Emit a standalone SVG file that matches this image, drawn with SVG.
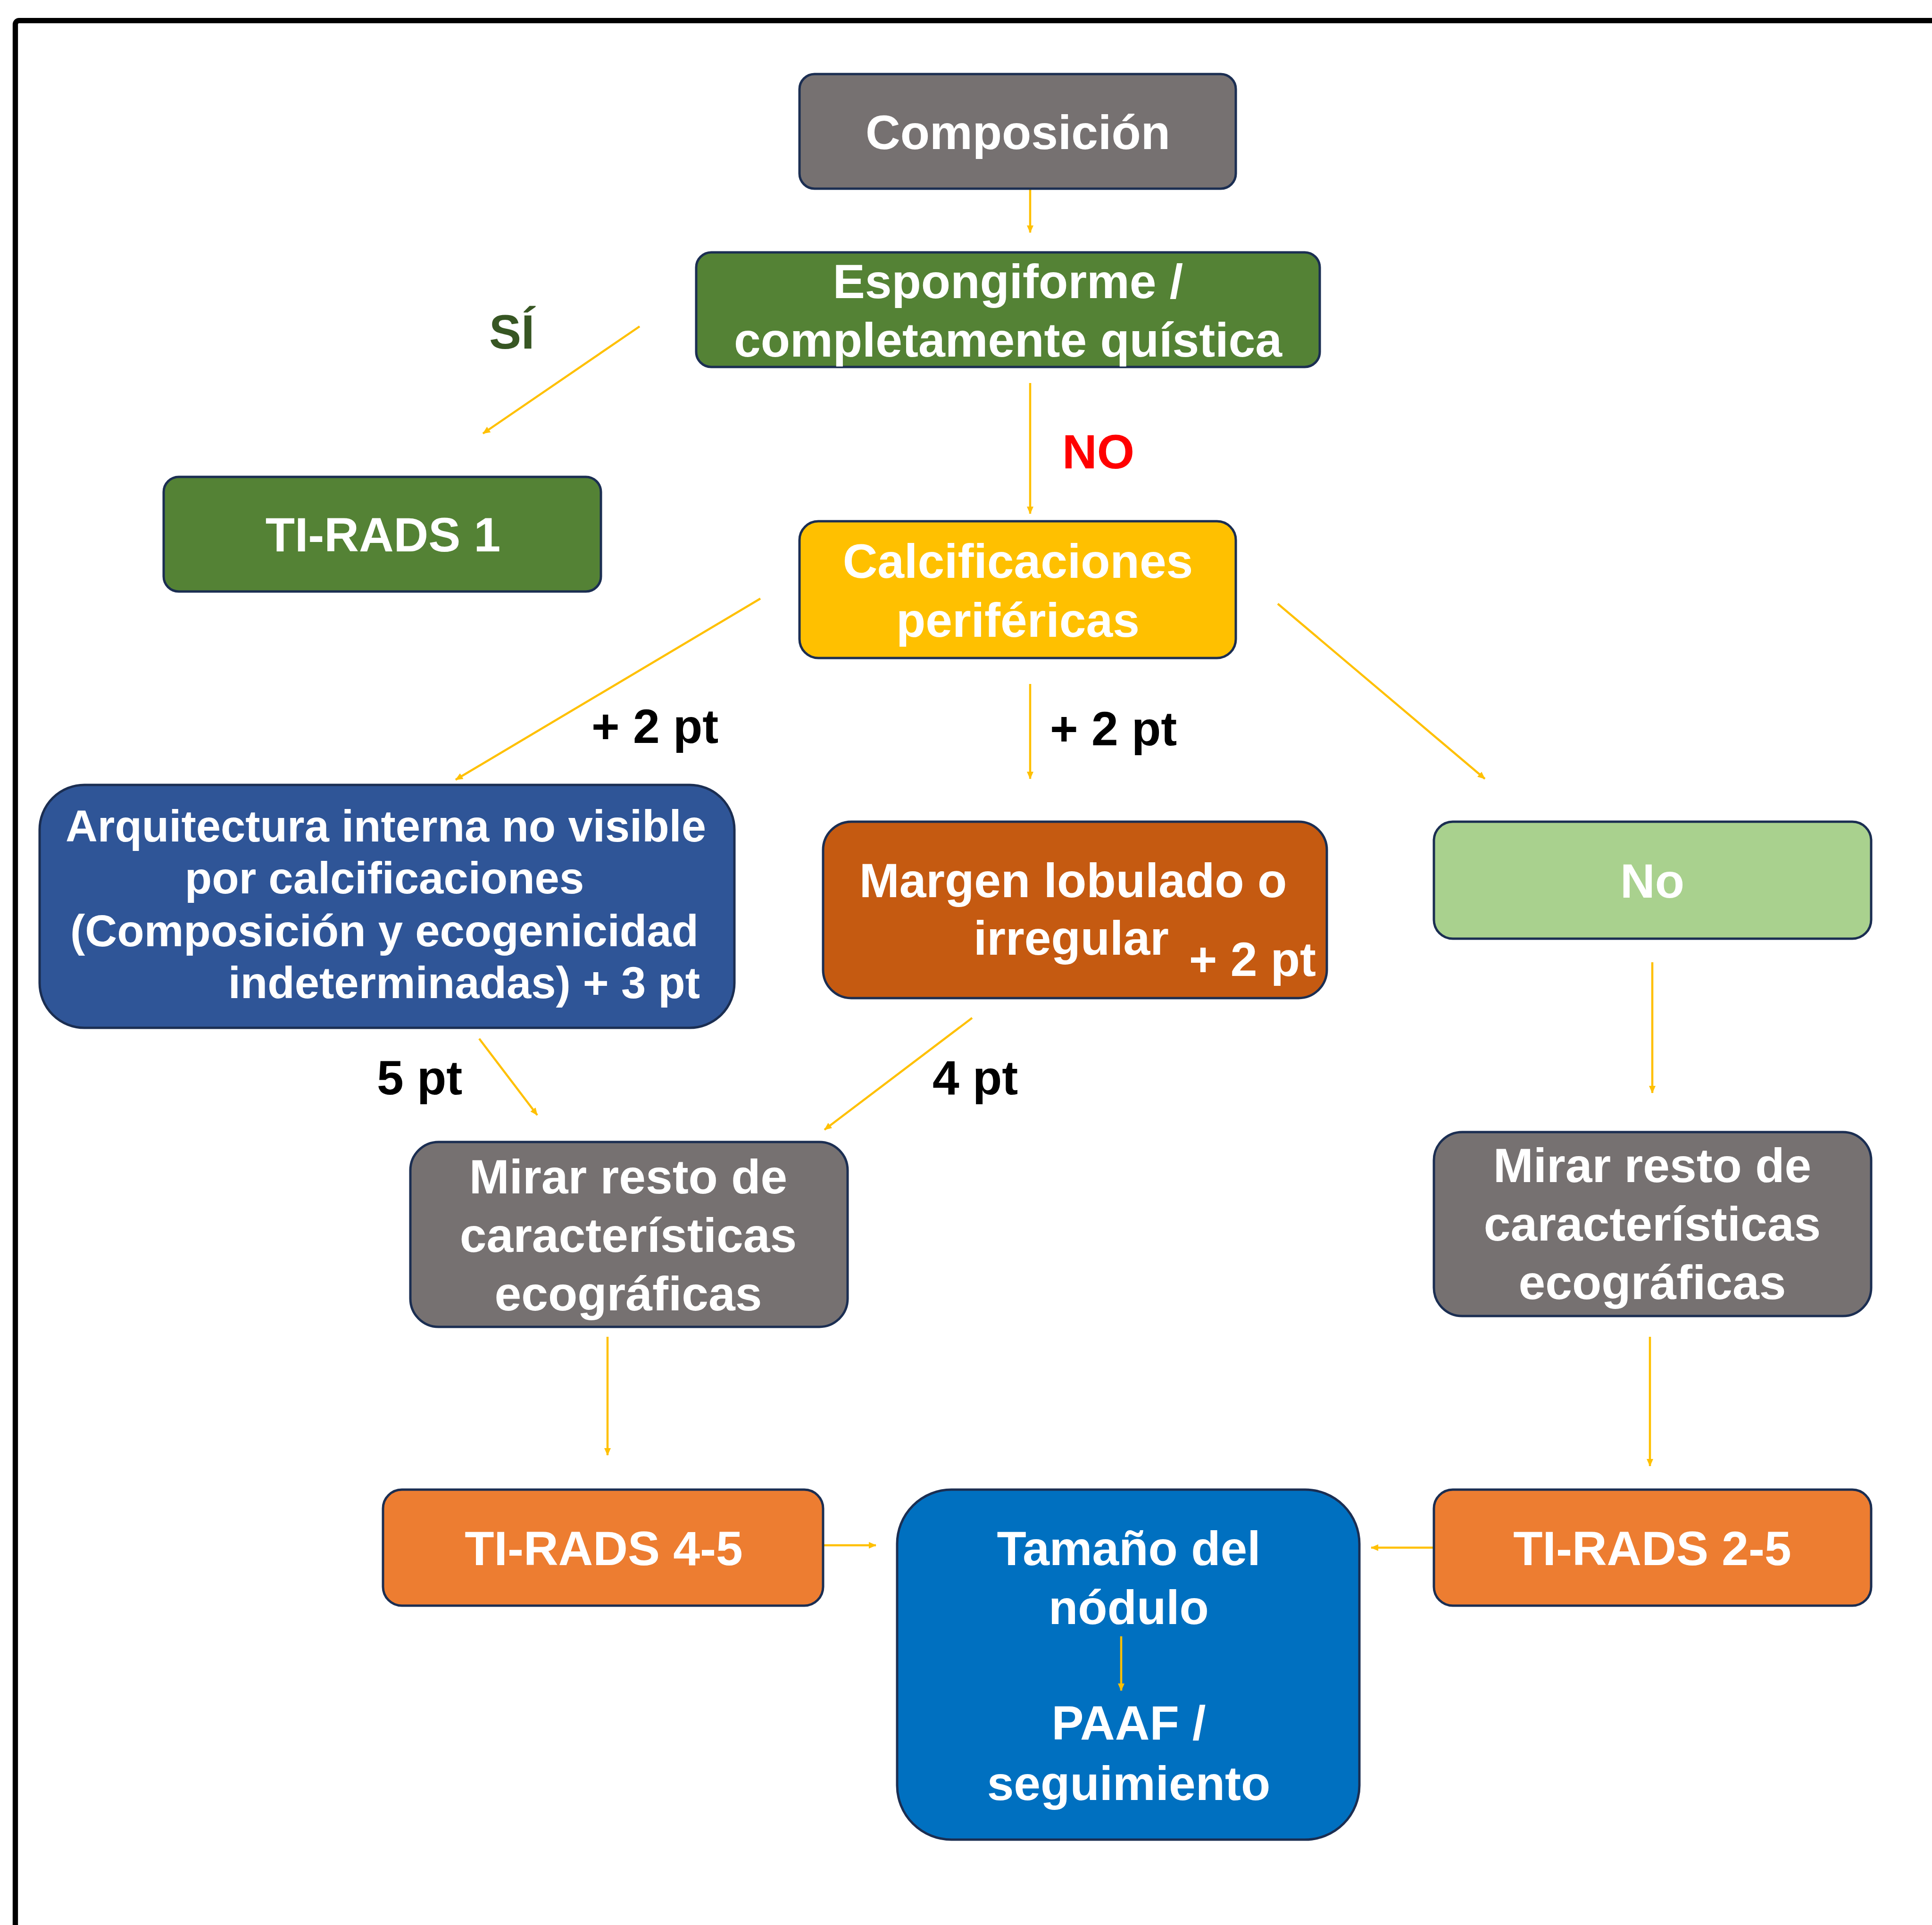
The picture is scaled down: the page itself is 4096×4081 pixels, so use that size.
<svg xmlns="http://www.w3.org/2000/svg" width="4096" height="4081" viewBox="0 0 4096 4081">
<style>
.box{stroke:#1B2E52;stroke-width:5}
.t{font-family:"Liberation Sans",Arial,sans-serif;font-weight:bold;font-size:102px;fill:#FFFFFF;text-anchor:middle}
.s{font-size:94px}
.lbl{font-family:"Liberation Sans",Arial,sans-serif;font-weight:bold;font-size:102px;fill:#000000}
.c{stroke:#FFC000;stroke-width:4.5;fill:none;marker-end:url(#ah)}
</style>
<defs>
<marker id="ah" markerUnits="userSpaceOnUse" markerWidth="16" markerHeight="14" refX="15" refY="7" orient="auto">
<path d="M0,0 L16,7 L0,14 z" fill="#FFC000"/>
</marker>
</defs>
<rect width="4096" height="4081" fill="#FFFFFF"/>
<rect x="32.5" y="43.7" width="4300" height="4300" rx="8" fill="none" stroke="#000000" stroke-width="11.3"/>

<g id="connectors">
<line class="c" x1="2184" y1="400" x2="2184" y2="493"/>
<line class="c" x1="1356" y1="692" x2="1024" y2="919"/>
<line class="c" x1="2184" y1="812" x2="2184" y2="1089"/>
<line class="c" x1="1612" y1="1269" x2="966" y2="1653"/>
<line class="c" x1="2184" y1="1450" x2="2184" y2="1651"/>
<line class="c" x1="2709" y1="1280" x2="3148" y2="1651"/>
<line class="c" x1="1016" y1="2202" x2="1139" y2="2364"/>
<line class="c" x1="2061" y1="2158" x2="1748" y2="2395"/>
<line class="c" x1="3503" y1="2040" x2="3503" y2="2317"/>
<line class="c" x1="1288" y1="2834" x2="1288" y2="3085"/>
<line class="c" x1="3498" y1="2834" x2="3498" y2="3108"/>
<line class="c" x1="1745" y1="3276" x2="1857" y2="3276"/>
<line class="c" x1="3038" y1="3281" x2="2907" y2="3281"/>
</g>

<g id="labels">
<text class="lbl" x="1037" y="739" style="fill:#375623">SÍ</text>
<text class="lbl" x="2252" y="993" style="fill:#FF0000">NO</text>
<text class="lbl" x="1254" y="1575">+ 2 pt</text>
<text class="lbl" x="2226" y="1580">+ 2 pt</text>
<text class="lbl" x="799" y="2320">5 pt</text>
<text class="lbl" x="1977" y="2320">4 pt</text>
</g>

<g id="n-composicion">
<rect class="box" x="1695" y="157" width="925" height="243" rx="32" fill="#767171"/>
<text class="t" x="2158" y="316">Composición</text>
</g>

<g id="n-espongiforme">
<rect class="box" x="1476" y="535" width="1322" height="243" rx="32" fill="#548235"/>
<text class="t" x="2137" y="632">Espongiforme /</text>
<text class="t" x="2137" y="756">completamente quística</text>
</g>

<g id="n-tirads1">
<rect class="box" x="347" y="1011" width="927" height="243" rx="32" fill="#548235"/>
<text class="t" x="812" y="1169">TI-RADS 1</text>
</g>

<g id="n-calcificaciones">
<rect class="box" x="1695" y="1105" width="925" height="290" rx="40" fill="#FFC000"/>
<text class="t" x="2158" y="1225">Calcificaciones</text>
<text class="t" x="2158" y="1350">periféricas</text>
</g>

<g id="n-arquitectura">
<rect class="box" x="84" y="1664" width="1473" height="515" rx="95" fill="#2F5597"/>
<text class="t s" x="818" y="1784">Arquitectura interna no visible</text>
<text class="t s" x="815" y="1894">por calcificaciones</text>
<text class="t s" x="815" y="2006">(Composición y ecogenicidad</text>
<text class="t s" x="1484" y="2116" style="text-anchor:end">indeterminadas) + 3 pt</text>
</g>

<g id="n-margen">
<rect class="box" x="1745" y="1742" width="1068" height="374" rx="60" fill="#C55A11"/>
<text class="t" x="2275" y="1902">Margen lobulado o</text>
<text class="t" x="2064" y="2024" style="text-anchor:start">irregular</text>
<text class="t" x="2790" y="2069" style="text-anchor:end">+ 2 pt</text>
</g>

<g id="n-no">
<rect class="box" x="3040" y="1742" width="927" height="248" rx="40" fill="#A9D18E"/>
<text class="t" x="3503" y="1903">No</text>
</g>

<g id="n-mirar-izq">
<rect class="box" x="870" y="2421" width="927" height="392" rx="60" fill="#767171"/>
<text class="t" x="1332" y="2530">Mirar resto de</text>
<text class="t" x="1332" y="2654">características</text>
<text class="t" x="1332" y="2778">ecográficas</text>
</g>

<g id="n-mirar-der">
<rect class="box" x="3040" y="2400" width="927" height="390" rx="60" fill="#767171"/>
<text class="t" x="3503" y="2506">Mirar resto de</text>
<text class="t" x="3503" y="2630">características</text>
<text class="t" x="3503" y="2754">ecográficas</text>
</g>

<g id="n-tirads45">
<rect class="box" x="812" y="3158" width="933" height="246" rx="40" fill="#ED7D31"/>
<text class="t" x="1280" y="3318">TI-RADS 4-5</text>
</g>

<g id="n-tirads25">
<rect class="box" x="3040" y="3158" width="927" height="246" rx="40" fill="#ED7D31"/>
<text class="t" x="3503" y="3318">TI-RADS 2-5</text>
</g>

<g id="n-tamano">
<rect class="box" x="1902" y="3158" width="980" height="742" rx="115" fill="#0070C0"/>
<text class="t" x="2393" y="3318">Tamaño del</text>
<text class="t" x="2393" y="3443">nódulo</text>
<line class="c" x1="2377" y1="3469" x2="2377" y2="3584"/>
<text class="t" x="2393" y="3688">PAAF /</text>
<text class="t" x="2393" y="3816">seguimiento</text>
</g>
</svg>
